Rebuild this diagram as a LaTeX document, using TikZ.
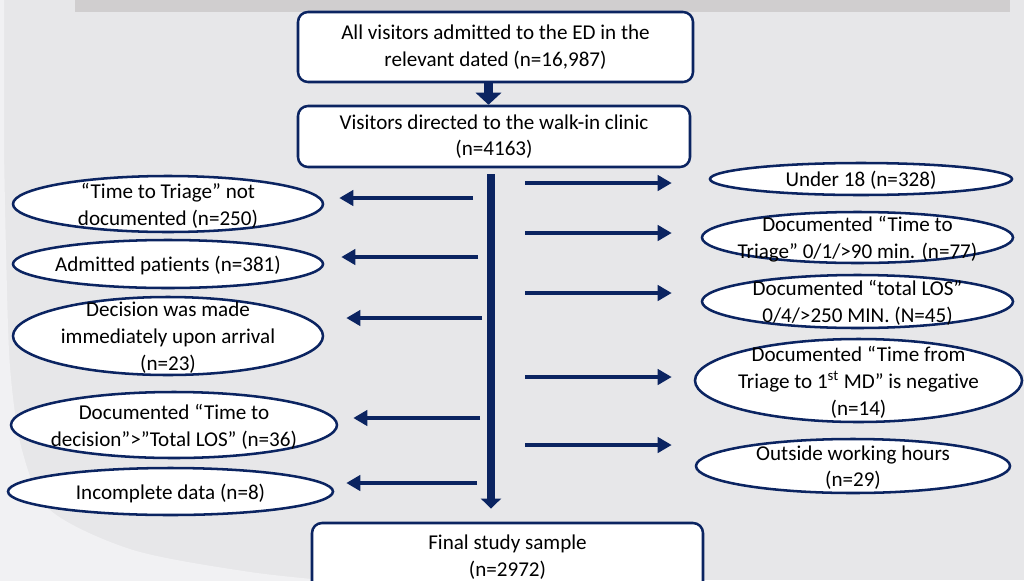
\documentclass[tikz,border=0pt]{standalone}
\usepackage{fontspec}
\setmainfont[Ligatures=NoCommon]{Carlito}
\usetikzlibrary{shapes.geometric,arrows.meta}
\definecolor{navy}{HTML}{0B2461}
\definecolor{slidegray}{HTML}{E7E7E9}
\definecolor{slidelight}{HTML}{F1F1F3}
\definecolor{bannergray}{HTML}{D0CECF}
\newcommand\flowfont{\fontsize{15}{19}\selectfont}
\tikzset{
	sz/.style 2 args={minimum width=#1*0.025cm, minimum height=#2*0.025cm},
	stagebox/.style={draw=navy, line width=1.8pt, fill=white, rounded corners=0.25cm, align=center, font=\flowfont, inner sep=0pt},
	exclbox/.style={draw=navy, line width=1.8pt, fill=white, ellipse, inner sep=0pt},
	excltext/.style={align=center, font=\flowfont, inner sep=0pt, yshift=-1.2pt},
	side/.style={draw=navy, line width=2.8pt, -{Triangle[length=0.35cm, width=0.38cm]}},
}
\begin{document}
\begin{tikzpicture}[x=0.025cm, y=-0.025cm]
	\useasboundingbox (0,0) rectangle (1024,580);
	\clip (0,0) rectangle (1024,580);
	\fill[slidegray] (0,0) rectangle (1024,580);
	\fill[slidelight] (0,0) -- (4,0) -- plot[smooth] coordinates {(4,150) (6,250) (10,367) (22,450) (50,510) (133,550) (250,572) (345,582)} -- (0,582) -- cycle;
	\fill[bannergray] (75,0) rectangle (1010,12);

	\node[stagebox, sz={395}{70}] (all) at (495.5,47) {All visitors admitted to the ED in the\\relevant dated (n=16,987)};
	\node[stagebox, sz={392}{61}] (walkin) at (494,136.5) {Visitors directed to the walk-in clinic\\(n=4163)};
	\node[stagebox, sz={391}{68}] (final) at (507.5,557) {Final study sample\\(n=2972)};

	\node[exclbox, sz={310}{56}] (triage) at (168,204) {};
	\node[excltext] (triaget) at (triage) {“Time to Triage” not\\documented (n=250)};
	\node[exclbox, sz={310}{48}] (admitted) at (168,264) {};
	\node[excltext] (admittedt) at (admitted) {Admitted patients (n=381)};
	\node[exclbox, sz={310}{78}] (arrival) at (168,336) {};
	\node[excltext] (arrivalt) at (arrival) {Decision was made\\immediately upon arrival\\(n=23)};
	\node[exclbox, sz={326}{66}] (decision) at (174,425) {};
	\node[excltext] (decisiont) at (decision) {Documented “Time to\\decision”>”Total LOS” (n=36)};
	\node[exclbox, sz={325}{47}] (incomplete) at (170.5,491.5) {};
	\node[excltext] (incompletet) at (incomplete) {Incomplete data (n=8)};

	\node[exclbox, sz={302}{32}] (under) at (861,179) {};
	\node[excltext] (undert) at (under) {Under 18 (n=328)};
	\node[exclbox, sz={311}{51}] (triagetime) at (857.5,237.5) {};
	\node[excltext] (triagetimet) at (triagetime) {Documented “Time to\\Triage” 0/1/>90 min. (n=77)};
	\node[exclbox, sz={311}{53}] (los) at (857.5,301.5) {};
	\node[excltext] (lost) at (los) {Documented “total LOS”\\0/4/>250 MIN. (N=45)};
	\node[exclbox, sz={327}{83}] (firstmd) at (858.5,380.5) {};
	\node[excltext] (firstmdt) at (firstmd) {Documented “Time from\\Triage to 1\textsuperscript{st} MD” is negative\\(n=14)};
	\node[exclbox, sz={314}{54}] (hours) at (853,466) {};
	\node[excltext] (hourst) at (hours) {Outside working hours\\(n=29)};

	\coordinate (spx) at (491,0);
	\coordinate (topx) at (488.5,0);
	\draw[navy, line width=0.225cm, -{Triangle[length=0.3cm, width=0.63cm]}] (all.south -| topx) -- (walkin.north -| topx);
	\draw[navy, line width=0.2cm, -{Triangle[length=0.25cm, width=0.5cm]}, shorten <=0.15cm, shorten >=0.33cm] (walkin.south -| spx) -- (final.north -| spx);
	\foreach \e/\x/\y/\s in {triage/473/198/15, admitted/478/257/17, arrival/482/318/22, decision/480/418/15, incomplete/477/483/12}{
		\coordinate (from\e) at (\x,\y);
		\draw[side, shorten >=\s*0.025cm] (from\e) -- (from\e -| \e.east);
	}
	\foreach \e/\y/\s in {under/183/37, triagetime/233/29, los/293/29, firstmd/377/22, hours/445/23}{
		\coordinate (from\e) at (525,\y);
		\draw[side, shorten >=\s*0.025cm] (from\e) -- (from\e -| \e.west);
	}
\end{tikzpicture}
\end{document}
